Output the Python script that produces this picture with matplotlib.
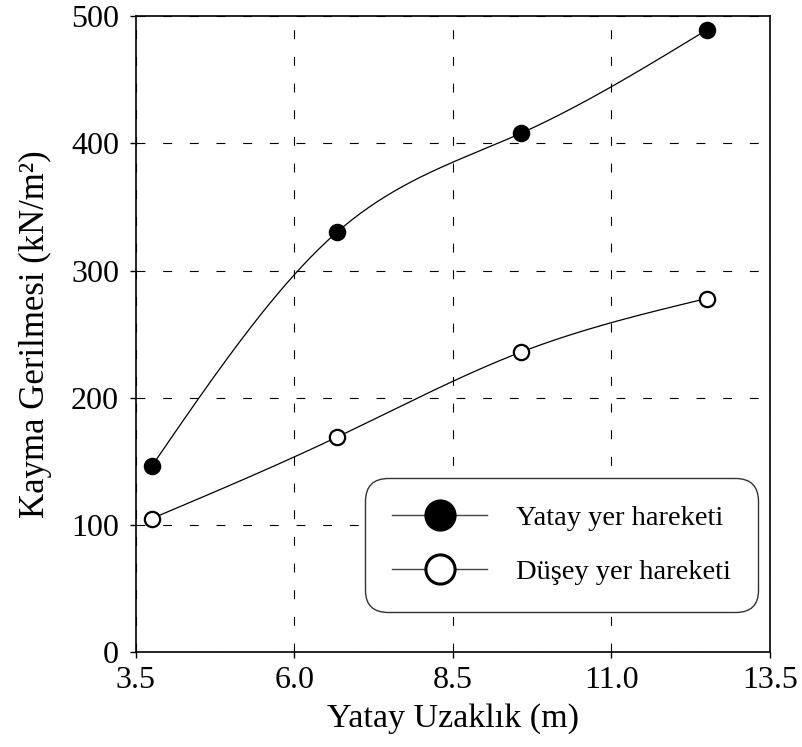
import numpy as np
import matplotlib
matplotlib.use("Agg")
import matplotlib.pyplot as plt
from matplotlib.lines import Line2D

plt.rcParams['font.family'] = ['Liberation Serif', 'DejaVu Serif']

distance = [3.75, 6.67, 9.58, 12.5]
yatay = [146, 330, 408, 489]
dusey = [105, 169, 236, 278]
labels = ["Yatay yer hareketi", "Düşey yer hareketi"]
xticks = [3.5, 6.0, 8.5, 11.0, 13.5]
yticks = [0, 100, 200, 300, 400, 500]


def natural_spline(x, y, n=200):
    x = np.asarray(x, float)
    y = np.asarray(y, float)
    m = len(x)
    h = np.diff(x)
    A = np.zeros((m, m))
    b = np.zeros(m)
    A[0, 0] = 1
    A[-1, -1] = 1
    for i in range(1, m - 1):
        A[i, i - 1] = h[i - 1]
        A[i, i] = 2 * (h[i - 1] + h[i])
        A[i, i + 1] = h[i]
        b[i] = 6 * ((y[i + 1] - y[i]) / h[i] - (y[i] - y[i - 1]) / h[i - 1])
    M = np.linalg.solve(A, b)
    xs = np.linspace(x[0], x[-1], n)
    ys = np.empty_like(xs)
    for k, xv in enumerate(xs):
        i = min(max(np.searchsorted(x, xv) - 1, 0), m - 2)
        t1 = x[i + 1] - xv
        t0 = xv - x[i]
        ys[k] = (M[i] * t1 ** 3 / (6 * h[i]) + M[i + 1] * t0 ** 3 / (6 * h[i])
                 + (y[i] / h[i] - M[i] * h[i] / 6) * t1
                 + (y[i + 1] / h[i] - M[i + 1] * h[i] / 6) * t0)
    return xs, ys


fig = plt.figure(figsize=(8.03, 7.47), dpi=100)
ax = fig.add_axes([0.169, 0.1268, 0.79, 0.8518])

for yv, filled in [(yatay, True), (dusey, False)]:
    xs, ys = natural_spline(distance, yv)
    ax.plot(xs, ys, color='black', lw=0.9, zorder=3)
    ax.plot(distance, yv, linestyle='none', marker='o', markersize=11,
            markerfacecolor='black' if filled else 'white',
            markeredgecolor='black', markeredgewidth=1.6, zorder=4)

h1 = Line2D([], [], color='#444444', lw=1.0, marker='o', markersize=21,
            markerfacecolor='black', markeredgecolor='black', markeredgewidth=2.2)
h2 = Line2D([], [], color='#444444', lw=1.0, marker='o', markersize=21,
            markerfacecolor='white', markeredgecolor='black', markeredgewidth=2.2)
leg = ax.legend([h1, h2], labels, loc='upper left',
                bbox_to_anchor=(0.3615, 0.274), borderaxespad=0,
                fontsize=20.5, handlelength=3.35, handletextpad=1.0,
                labelspacing=1.0, borderpad=0.95, fancybox=True,
                framealpha=1, edgecolor='#333333')
leg.get_frame().set_linewidth(1.0)
leg.get_frame().set_boxstyle('round', pad=0, rounding_size=0.8)

ax.set_xlim(3.5, 13.5)
ax.set_ylim(0, 500)
ax.set_xticks(xticks)
ax.set_xticklabels([f"{v:.1f}" for v in xticks])
ax.set_yticks(yticks)
ax.tick_params(direction='out', length=4, width=1, labelsize=23)
ax.tick_params(axis='y', pad=8)
ax.tick_params(axis='x', pad=6)
ax.grid(True, color='black', linestyle=(0, (8, 16)), linewidth=0.8)
ax.set_axisbelow(True)
for s in ax.spines.values():
    s.set_linewidth(1.2)

ax.set_xlabel("Yatay Uzaklık (m)", fontsize=24.5, labelpad=6)
ax.set_ylabel("Kayma Gerilmesi (kN/m²)", fontsize=25, labelpad=14)

fig.savefig("out.png", dpi=100)
